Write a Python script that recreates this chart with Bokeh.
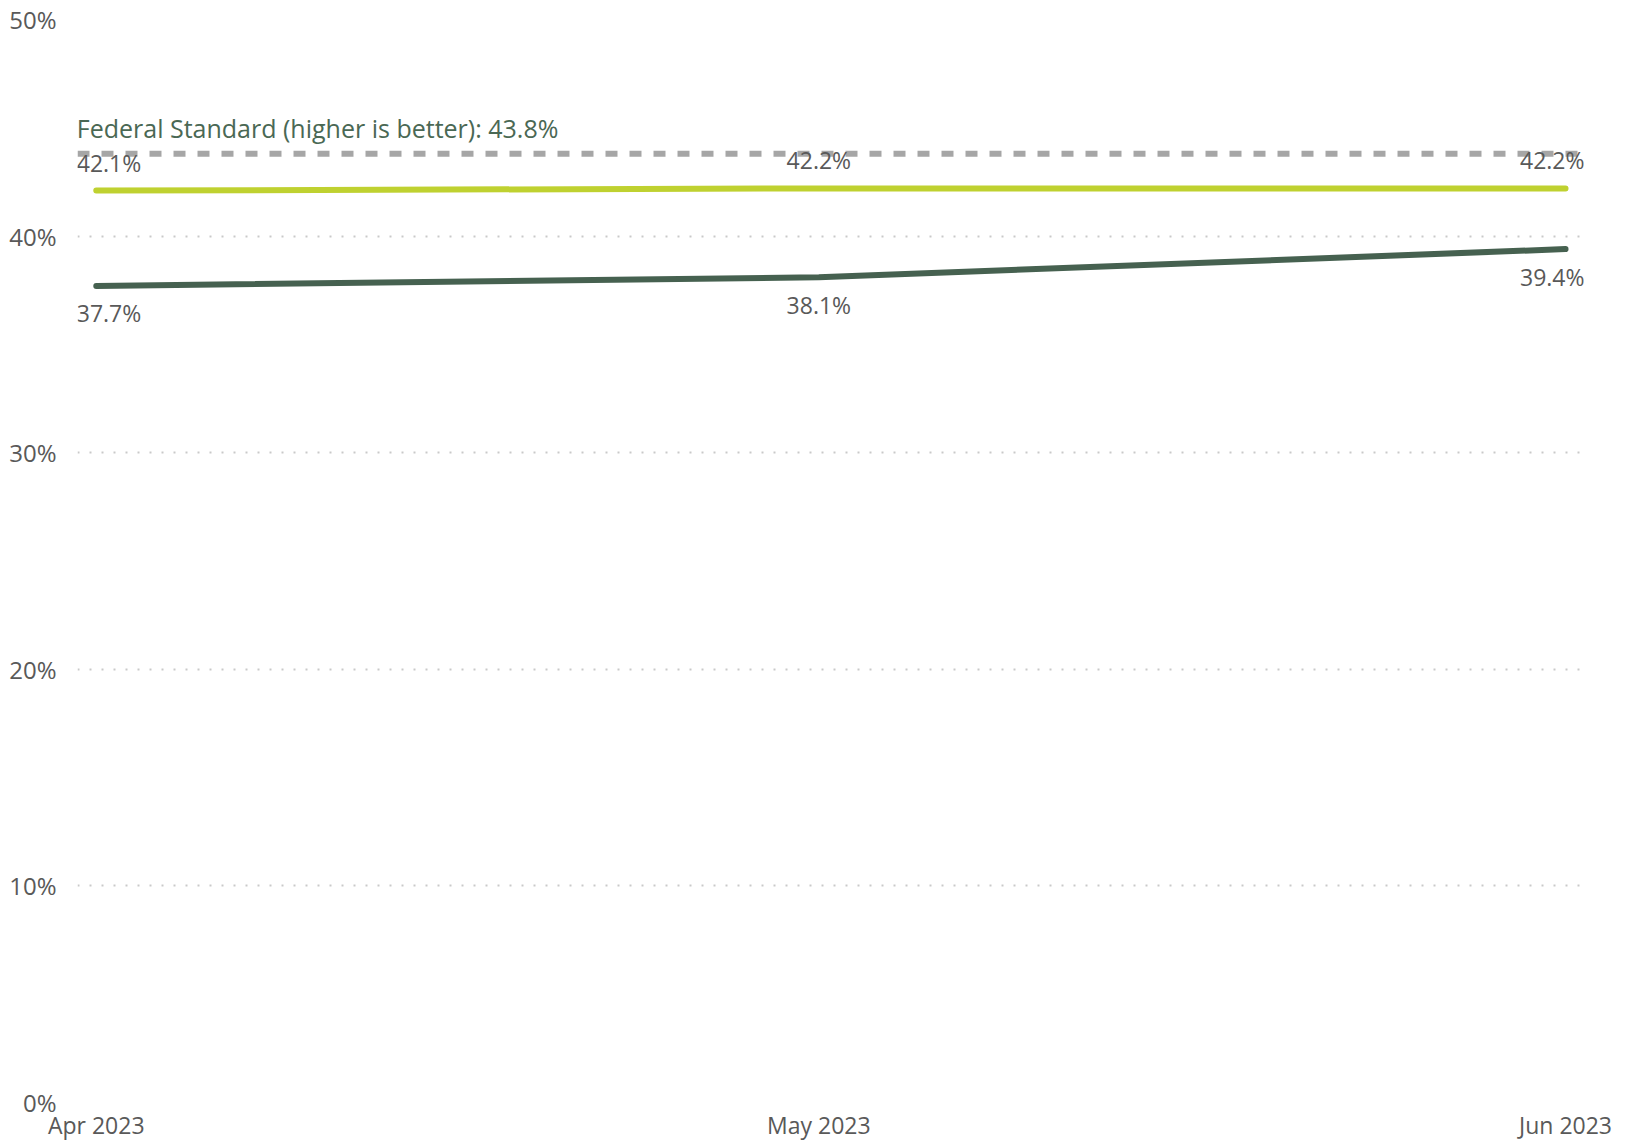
import pandas as pd
from bokeh.plotting import figure
from bokeh.models import (Range1d, FixedTicker, PrintfTickFormatter, Span,
                          ColumnDataSource, DatetimeTickFormatter)
from bokeh.embed import file_html
from bokeh.resources import INLINE
from bokeh.core.properties import value

# ---- data ----
months = ["2023-04-01", "2023-05-01", "2023-06-01"]
x_labels = ["Apr 2023", "May 2023", "Jun 2023"]
series_light = [42.1, 42.2, 42.2]
series_dark = [37.7, 38.1, 39.4]
federal_standard = 43.8
federal_label = "Federal Standard (higher is better): 43.8%"
y_ticks = [0, 10, 20, 30, 40, 50]

# ---- styling ----
FONT = "Open Sans"
TEXT_GRAY = "#595959"
LIGHT = "#bfd130"
DARK = "#466150"
TITLE_GREEN = "#4a6854"

dates = pd.to_datetime(months)
date_ms = [float(d.value // 10**6) for d in dates]
x_start = dates[0] - pd.Timedelta(hours=18.7)
x_end = dates[-1] + pd.Timedelta(hours=20.9)

p = figure(width=1629, height=1143, x_axis_type="datetime",
           x_range=Range1d(x_start, x_end), y_range=Range1d(0, 50),
           output_backend="svg", toolbar_location=None,
           min_border_left=77, min_border_right=43,
           min_border_top=19, min_border_bottom=37)
p.outline_line_color = None
p.background_fill_color = "white"
p.border_fill_color = "white"
p.xgrid.visible = False

# x axis
p.xaxis.ticker = FixedTicker(ticks=date_ms)
p.xaxis.formatter = DatetimeTickFormatter(days="%b %Y", months="%b %Y",
                                          years="%b %Y")
p.xaxis.major_label_overrides = {t: lab for t, lab in zip(date_ms, x_labels)}
p.xaxis.axis_line_color = None
p.xaxis.major_tick_line_color = None
p.xaxis.minor_tick_line_color = None
p.xaxis.major_tick_out = 0
p.xaxis.major_tick_in = 0
p.xaxis.major_label_standoff = 6
p.xaxis.major_label_text_baseline = "alphabetic"
p.xaxis.major_label_text_font = FONT
p.xaxis.major_label_text_font_size = "23px"
p.xaxis.major_label_text_color = TEXT_GRAY

# y axis & grid
p.yaxis.ticker = FixedTicker(ticks=y_ticks)
p.yaxis.formatter = PrintfTickFormatter(format="%d%%")
p.yaxis.axis_line_color = None
p.yaxis.major_tick_line_color = None
p.yaxis.minor_tick_line_color = None
p.yaxis.major_tick_out = 0
p.yaxis.major_tick_in = 0
p.yaxis.major_label_standoff = 21
p.yaxis.major_label_text_font = FONT
p.yaxis.major_label_text_font_size = "24px"
p.yaxis.major_label_text_color = TEXT_GRAY

p.ygrid.ticker = FixedTicker(ticks=y_ticks)
p.ygrid.grid_line_color = "#c9c9c9"
p.ygrid.grid_line_dash = "2 10"
p.ygrid.grid_line_width = 2

# federal standard line
span = Span(location=federal_standard, dimension="width", line_color="#a6a6a6",
            line_width=6, line_dash="12 12", level="underlay")
p.add_layout(span)

# series lines
p.line(dates, series_light, line_color=LIGHT, line_width=6,
       line_cap="round", line_join="round")
p.line(dates, series_dark, line_color=DARK, line_width=6,
       line_cap="round", line_join="round")

aligns = ["left", "center", "right"]
xoffs = [-19.5, 0, 19]

src_light = ColumnDataSource(dict(x=dates, y=series_light,
                                  text=[f"{v:.1f}%" for v in series_light],
                                  align=aligns, xo=xoffs))
src_dark = ColumnDataSource(dict(x=dates, y=series_dark,
                                 text=[f"{v:.1f}%" for v in series_dark],
                                 align=aligns, xo=xoffs))

common = dict(text_font=value(FONT), text_font_size="23px",
              text_color=TEXT_GRAY, text_baseline="alphabetic")
p.text(x="x", y="y", text="text", source=src_light, text_align="align",
       x_offset="xo", y_offset=-28, **common)
p.text(x="x", y="y", text="text", source=src_dark, text_align="align",
       x_offset="xo", y_offset=27.5, **common)

# federal standard caption
p.text(x=[dates[0]], y=[federal_standard], text=[federal_label],
       x_offset=-19.5, y_offset=-26, text_align="left",
       text_baseline="alphabetic", text_font=value(FONT),
       text_font_size="25px", text_color=TITLE_GREEN)

open("out.html", "w").write(file_html(p, INLINE))
